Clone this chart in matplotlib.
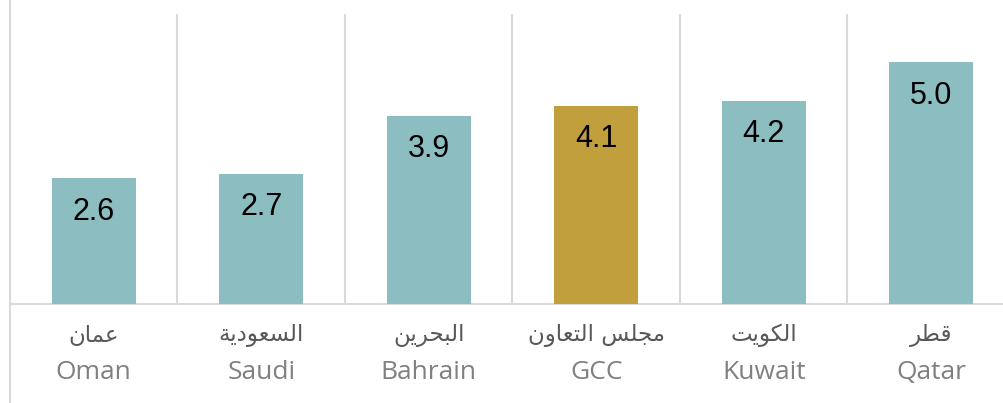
import matplotlib
matplotlib.use("Agg")
import matplotlib.pyplot as plt
from matplotlib.lines import Line2D

# Arabic labels written in presentation forms, visual (left-to-right) order
arabic_labels = [
    "\uFEE5\uFE8E\uFEE4\uFECB",                                   # عمان
    "\uFE94\uFEF3\uFEA9\uFEEE\uFECC\uFEB4\uFEDF\uFE8D",           # السعودية
    "\uFEE6\uFEF3\uFEAE\uFEA4\uFE92\uFEDF\uFE8D",                 # البحرين
    "\uFEE5\uFEED\uFE8E\uFECC\uFE98\uFEDF\uFE8D \uFEB2\uFEE0\uFEA0\uFEE3",  # مجلس التعاون
    "\uFE96\uFEF3\uFEEE\uFEDC\uFEDF\uFE8D",                       # الكويت
    "\uFEAE\uFEC4\uFED7",                                         # قطر
]
english_labels = ["Oman", "Saudi", "Bahrain", "GCC", "Kuwait", "Qatar"]
values = [2.6, 2.7, 3.9, 4.1, 4.2, 5.0]
highlight = "GCC"

teal = "#8cbdc1"
gold = "#c29f3d"
grid_col = "#d9d9d9"

W, H = 1004, 403
fig = plt.figure(figsize=(W / 100, H / 100), dpi=100)
fig.patch.set_facecolor("white")

# axes runs slightly past the right edge, as in the source
left, right, top, bottom = 10, 1015, 14, 304
ax = fig.add_axes([left / W, 1 - bottom / H, (right - left) / W, (bottom - top) / H])

n = len(values)
x = range(n)
colors = [gold if e == highlight else teal for e in english_labels]
bars = ax.bar(x, values, width=0.5, color=colors, zorder=3)

ax.set_xlim(-0.5, n - 0.5)
ax.set_ylim(0, 6)

for b, v in zip(bars, values):
    ax.annotate(f"{v:.1f}", (b.get_x() + b.get_width() / 2, v),
                xytext=(0, -24), textcoords="offset points",
                ha="center", va="center", fontsize=22,
                family="Liberation Sans", color="black", zorder=4)

# separators between categories
for i in range(n + 1):
    ax.axvline(i - 0.5, color=grid_col, lw=1.5, zorder=1)

for s in ["top", "right", "left"]:
    ax.spines[s].set_visible(False)
ax.spines["bottom"].set_color(grid_col)
ax.spines["bottom"].set_linewidth(1.5)
ax.set_yticks([])
ax.set_xticks([])

for i in x:
    ax.annotate(arabic_labels[i], (i, 0), xytext=(0, -22.5), textcoords="offset points",
                ha="center", va="center", fontsize=16.5, family="DejaVu Sans",
                color="#595959", annotation_clip=False)
    ax.annotate(english_labels[i], (i, 0), xytext=(0, -49), textcoords="offset points",
                ha="center", va="center", fontsize=19, family="Open Sans",
                color="#808080", annotation_clip=False)

# full-height border at the left
fig.add_artist(Line2D([left / W, left / W], [0, 1], color=grid_col, lw=1.5))

fig.savefig("out.png", dpi=100, facecolor="white")
